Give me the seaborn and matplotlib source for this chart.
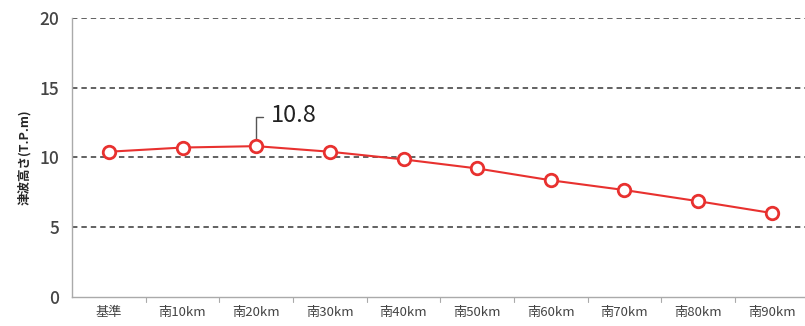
import matplotlib
matplotlib.use("Agg")
import matplotlib.pyplot as plt
from matplotlib.ticker import MultipleLocator
import seaborn as sns
import pandas as pd

categories = ["基準", "南10km", "南20km", "南30km", "南40km",
              "南50km", "南60km", "南70km", "南80km", "南90km"]
heights = [10.4, 10.7, 10.8, 10.4, 9.85, 9.2, 8.35, 7.65, 6.85, 6.0]
y_ticks = [0, 5, 10, 15, 20]
peak_label = "10.8"
y_title = "津波高さ(T.P.m)"

sns.set_style("white")
plt.rcParams["font.family"] = ["Noto Sans CJK JP", "DejaVu Sans"]

df = pd.DataFrame({"地点": categories, "津波高さ": heights})

fig = plt.figure(figsize=(8.05, 3.26), dpi=100)
ax = fig.add_axes([0.0895, 0.09, 0.915, 0.855])

for v in y_ticks[1:]:
    ax.axhline(v, color="#555555", linestyle=(0, (3, 2.2)), linewidth=1.3, zorder=1)

sns.lineplot(data=df, x="地点", y="津波高さ", ax=ax, color="#e8312f",
             linewidth=1.5, marker="o", markersize=9, markerfacecolor="white",
             markeredgecolor="#e8312f", markeredgewidth=2.0, zorder=3)

ax.set_xlim(-0.5, len(categories) - 0.5)
ax.set_ylim(0, 20)
ax.set_yticks(y_ticks)
ax.yaxis.set_minor_locator(MultipleLocator(1))
ax.set_xticks(range(len(categories)))
ax.set_xticklabels(categories, fontsize=9.5, color="#444444")
ax.tick_params(axis="x", length=0, pad=7)
ax.tick_params(axis="y", which="major", labelsize=12.5, colors="#444444",
               length=4, direction="out", pad=5)
ax.tick_params(axis="y", which="minor", length=3, direction="in", color="#aaaaaa")
for lbl in ax.get_yticklabels():
    lbl.set_color("#444444")
    lbl.set_fontweight("medium")

# category boundary ticks along the bottom axis
for b in [i + 0.5 for i in range(len(categories) - 1)]:
    ax.plot([b, b], [0, -0.35], color="#aaaaaa", linewidth=0.8,
            clip_on=False, zorder=2)

ax.set_xlabel("")
ax.set_ylabel(y_title, fontsize=9, fontweight="bold", labelpad=6)

for side in ["top", "right"]:
    ax.spines[side].set_visible(False)
for side in ["left", "bottom"]:
    ax.spines[side].set_color("#aaaaaa")
    ax.spines[side].set_linewidth(1.0)

# leader line and label on the peak value
peak_i = heights.index(max(heights))
peak_v = heights[peak_i]
ax.plot([peak_i, peak_i, peak_i + 0.09], [peak_v + 0.45, peak_v + 2.1, peak_v + 2.1],
        color="#555555", linewidth=1.0, zorder=2)
ax.text(peak_i + 0.2, peak_v + 2.2, peak_label, fontsize=17, color="#222222",
        va="center", ha="left")

fig.savefig("out.png", dpi=100)
